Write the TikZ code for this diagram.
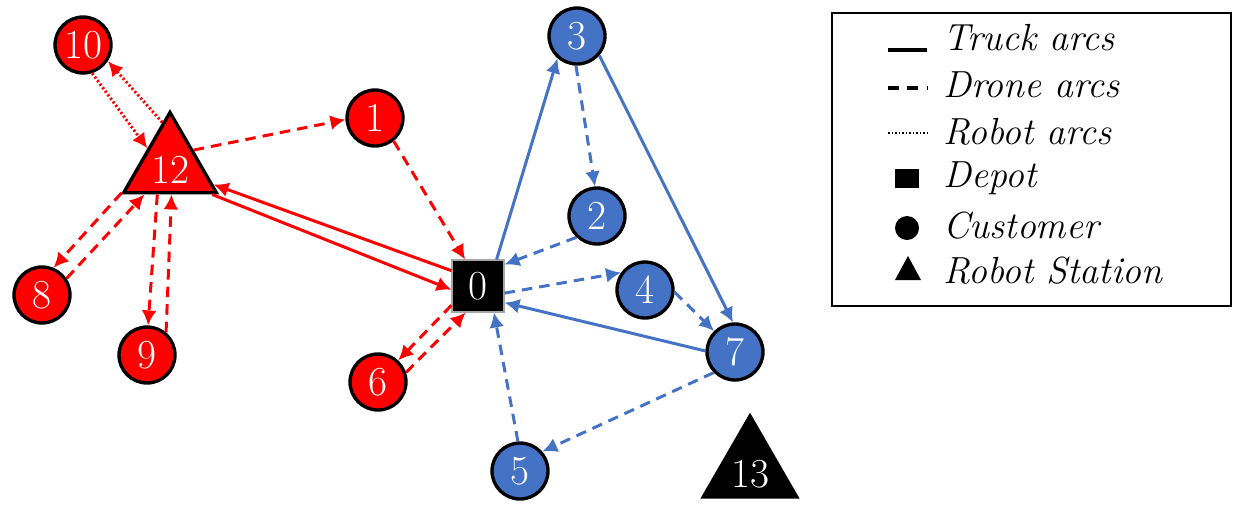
\documentclass[tikz,border=0pt]{standalone}
\usepackage{fontspec}
\usepackage{tikz}
\usetikzlibrary{arrows.meta, shapes.geometric, positioning}

\definecolor{redroute}{RGB}{255,0,0}
\definecolor{blueroute}{RGB}{68,114,196}

\begin{document}
\begin{tikzpicture}[x=0.02cm, y=-0.02cm, >={Latex[length=8.5pt, width=8.5pt]}]
	\tikzstyle{every node} = [inner sep=0pt, text=white, font=\fontsize{23.5}{27}\selectfont]
	\tikzstyle{customer} = [circle, draw=black, line width=1.9pt, minimum size=1.12cm]
	\tikzstyle{station} = [regular polygon, regular polygon sides=3, draw=black, line width=1.9pt, text height=20pt, text depth=0pt]
	\tikzstyle{depot} = [rectangle, fill=black, draw=gray!70, line width=0.6pt, minimum size=1.04cm]
	\tikzstyle{truck} = [->, line width=1.7pt]
	\tikzstyle{drone} = [->, line width=1.7pt, dash pattern=on 6pt off 4pt]
	\tikzstyle{robot} = [->, line width=1.7pt, dash pattern=on 1.2pt off 1.3pt]
	\tikzstyle{legendtext} = [anchor=west, text=black, font=\fontsize{21.5}{25}\selectfont\itshape]
	\useasboundingbox (0,0) rectangle (1240,508);
	% red tour
	\node[customer, fill=redroute] (10) at (83,45) {10};
	\node[station, fill=redroute, minimum size=2.08cm] (12) at (170,166) {12};
	\node[customer, fill=redroute] (1) at (375,118) {1};
	\node[customer, fill=redroute] (8) at (42,295) {8};
	\node[customer, fill=redroute] (9) at (147,355) {9};
	\node[customer, fill=redroute] (6) at (378,382) {6};
	% depot
	\node[depot] (0) at (478,286) {0};
	% blue tour
	\node[customer, fill=blueroute] (3) at (577,36) {3};
	\node[customer, fill=blueroute] (2) at (597,216) {2};
	\node[customer, fill=blueroute] (4) at (645,290) {4};
	\node[customer, fill=blueroute] (7) at (735,352) {7};
	\node[customer, fill=blueroute] (5) at (520,471) {5};
	\node[station, fill=black, minimum size=2.16cm] (13) at (750,470) {13};
	% red arcs
	\draw [robot, redroute] (10.-72)--(12.142);
	\draw [robot, redroute] (12.100)--(10.-33);
	\draw [drone, redroute] (12.34)--(1.183);
	\draw [drone, redroute] (1.-51)--(0.116);
	\draw [truck, redroute] (0.150)--(12.-23);
	\draw [truck, redroute] (12.-34)--(0.188);
	\draw [drone, redroute] (12.209)--(8.67);
	\draw [drone, redroute] (8.34)--(12.228);
	\draw [drone, redroute] (12.246)--(9.88);
	\draw [drone, redroute] (9.50)--(12.-87);
	\draw [drone, redroute] (0.216)--(6.47);
	\draw [drone, redroute] (6.19)--(0.245);
	% blue arcs
	\draw [truck, blueroute] (0.55)--(3.229);
	\draw [drone, blueroute] (3.-92)--(2.94);
	\draw [truck, blueroute] (3.-41)--(7.94);
	\draw [drone, blueroute] (2.226)--(0.39);
	\draw [drone, blueroute] (0.-15)--(4.144);
	\draw [drone, blueroute] (4.-4)--(7.135);
	\draw [truck, blueroute] (7.178)--(0.-32);
	\draw [drone, blueroute] (7.224)--(5.41);
	\draw [drone, blueroute] (5.94)--(0.-59);
	% legend
	\draw [line width=1.2pt] (832,13) rectangle (1231,306);
	\node[legendtext] (trucklab) at (943,38) {Truck arcs};
	\node[legendtext] (dronelab) at (943,85) {Drone arcs};
	\node[legendtext] (robotlab) at (943,132) {Robot arcs};
	\node[legendtext] (depotlab) at (943,178) {Depot};
	\node[legendtext] (customerlab) at (943,226) {Customer};
	\node[legendtext] (stationlab) at (943,271) {Robot Station};
	\draw [line width=1.8pt] (888,50) -- (927,50);
	\draw [line width=1.8pt, dash pattern=on 6pt off 5pt] (888,88) -- (927,88);
	\draw [line width=1.2pt, dash pattern=on 1pt off 1pt] (888,133) -- (927,133);
	\fill (895,169) rectangle (919,188);
	\fill (907,228) circle (12);
	\fill (895,280) -- (908,256) -- (921,280) -- cycle;
\end{tikzpicture}
\end{document}
